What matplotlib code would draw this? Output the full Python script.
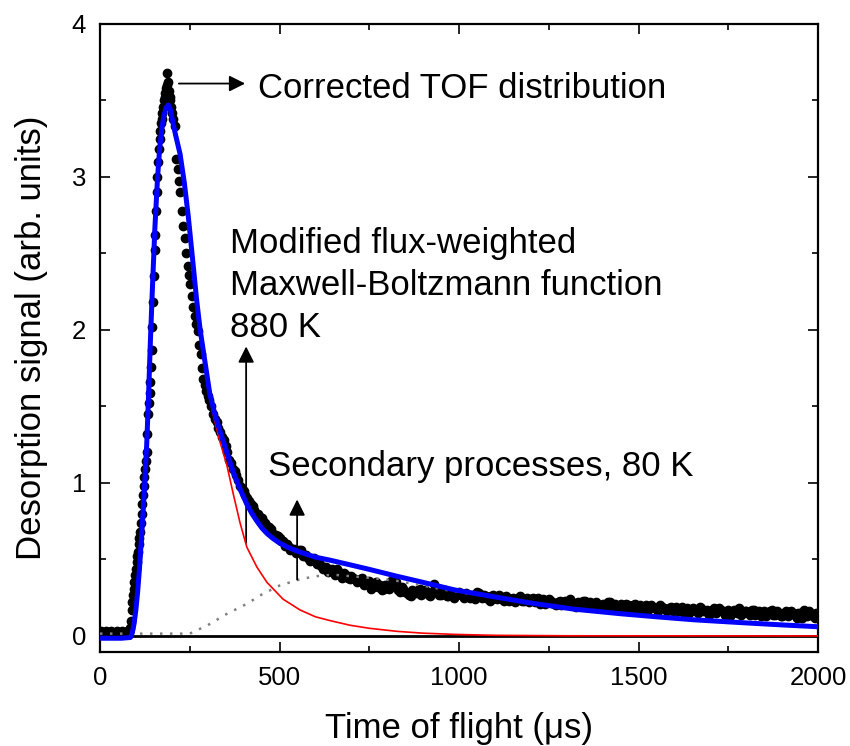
import numpy as np
import matplotlib.pyplot as plt
from matplotlib.ticker import MultipleLocator

plt.rcParams['font.family'] = ['Liberation Sans', 'DejaVu Sans']

# measured TOF points (time in us, signal in arb. units)
t_base = np.arange(0, 81, 4)
s_base = [0.02, 0.03, 0.01, 0.02, 0.03, 0.02, 0.01, 0.02, 0.03, 0.02, 0.02,
          0.01, 0.03, 0.02, 0.02, 0.03, 0.01, 0.02, 0.02, 0.03, 0.03]
t_rise = np.arange(82, 199, 2)
s_rise = [0.03, 0.05, 0.10, 0.17, 0.22, 0.27, 0.31, 0.35, 0.40, 0.44,
          0.48, 0.52, 0.55, 0.60, 0.64, 0.68, 0.74, 0.80, 0.86, 0.92,
          0.98, 1.04, 1.09, 1.14, 1.20, 1.32, 1.45, 1.52, 1.59, 1.66,
          1.76, 1.87, 2.02, 2.18, 2.35, 2.52, 2.62, 2.78, 2.90, 3.00,
          3.10, 3.18, 3.25, 3.30, 3.35, 3.38, 3.42, 3.46, 3.50, 3.52,
          3.55, 3.58, 3.60, 3.68, 3.62, 3.56, 3.52, 3.50, 3.46]
t_fall = np.arange(200, 297, 4)
s_fall = [3.42, 3.38, 3.33, 3.12, 3.05, 2.97, 2.90, 2.78, 2.68, 2.60,
          2.50, 2.42, 2.36, 2.30, 2.22, 2.15, 2.09, 2.04, 1.99, 1.90,
          1.84, 1.75, 1.68, 1.64, 1.60]
t_tail = np.arange(300, 2001, 10)
s_tail = [1.57, 1.50, 1.42, 1.36, 1.30, 1.24, 1.15, 1.09, 1.05, 0.98,
          0.95, 0.90, 0.86, 0.82, 0.80, 0.77, 0.74, 0.71, 0.67, 0.66,
          0.64, 0.62, 0.60, 0.56, 0.57, 0.55, 0.56, 0.53, 0.51, 0.50,
          0.49, 0.48, 0.44, 0.45, 0.43, 0.42, 0.44, 0.40, 0.41, 0.38,
          0.39, 0.37, 0.36, 0.38, 0.34, 0.36, 0.32, 0.35, 0.33, 0.31,
          0.33, 0.36, 0.34, 0.30, 0.32, 0.29, 0.27, 0.30, 0.28, 0.31,
          0.28, 0.29, 0.26, 0.34, 0.29, 0.27, 0.30, 0.26, 0.28, 0.27,
          0.29, 0.26, 0.28, 0.25, 0.27, 0.29, 0.26, 0.27, 0.24, 0.26,
          0.25, 0.27, 0.24, 0.26, 0.23, 0.25, 0.24, 0.26, 0.23, 0.25,
          0.24, 0.22, 0.25, 0.23, 0.21, 0.24, 0.22, 0.20, 0.23, 0.21,
          0.22, 0.24, 0.20, 0.22, 0.21, 0.23, 0.19, 0.21, 0.22, 0.20,
          0.21, 0.19, 0.22, 0.20, 0.18, 0.21, 0.19, 0.20, 0.18, 0.21,
          0.19, 0.17, 0.20, 0.18, 0.19, 0.17, 0.20, 0.18, 0.16, 0.19,
          0.18, 0.16, 0.19, 0.17, 0.15, 0.18, 0.17, 0.19, 0.16, 0.17,
          0.15, 0.18, 0.16, 0.17, 0.14, 0.17, 0.15, 0.16, 0.18, 0.15,
          0.16, 0.14, 0.17, 0.15, 0.13, 0.16, 0.15, 0.17, 0.14, 0.15,
          0.13, 0.16, 0.14, 0.15, 0.12, 0.15, 0.17, 0.13, 0.14, 0.12,
          0.15]
t_tail2 = np.arange(305, 2000, 10)
s_tail2 = [1.54, 1.45, 1.40, 1.33, 1.28, 1.20, 1.13, 1.08, 1.02, 0.97,
           0.92, 0.88, 0.85, 0.80, 0.78, 0.75, 0.72, 0.70, 0.66, 0.65,
           0.62, 0.59, 0.58, 0.57, 0.54, 0.56, 0.52, 0.53, 0.49, 0.51,
           0.47, 0.46, 0.45, 0.42, 0.44, 0.40, 0.42, 0.38, 0.40, 0.37,
           0.38, 0.35, 0.37, 0.33, 0.35, 0.31, 0.34, 0.32, 0.30, 0.33,
           0.31, 0.33, 0.35, 0.29, 0.31, 0.28, 0.26, 0.29, 0.30, 0.27,
           0.30, 0.27, 0.29, 0.31, 0.27, 0.29, 0.26, 0.28, 0.25, 0.28,
           0.27, 0.25, 0.27, 0.26, 0.24, 0.28, 0.25, 0.26, 0.23, 0.27,
           0.24, 0.26, 0.23, 0.25, 0.24, 0.22, 0.25, 0.23, 0.24, 0.22,
           0.25, 0.23, 0.21, 0.24, 0.22, 0.23, 0.21, 0.22, 0.20, 0.23,
           0.21, 0.22, 0.19, 0.21, 0.23, 0.20, 0.22, 0.19, 0.21, 0.18,
           0.20, 0.22, 0.19, 0.21, 0.19, 0.18, 0.21, 0.17, 0.20, 0.18,
           0.20, 0.18, 0.17, 0.20, 0.18, 0.16, 0.19, 0.17, 0.18, 0.16,
           0.19, 0.17, 0.15, 0.18, 0.16, 0.17, 0.15, 0.18, 0.16, 0.14,
           0.17, 0.15, 0.18, 0.16, 0.15, 0.13, 0.17, 0.15, 0.14, 0.16,
           0.15, 0.17, 0.14, 0.16, 0.15, 0.13, 0.16, 0.14, 0.16, 0.13,
           0.15, 0.13, 0.16, 0.14, 0.15, 0.12, 0.14, 0.16, 0.13, 0.15]
t_data = np.concatenate([t_base, t_rise, t_fall, t_tail, t_tail2])
s_data = np.concatenate([s_base, s_rise, s_fall, s_tail, s_tail2])

# total fit (blue)
t_fit = [0, 60, 85, 90, 95, 100, 105, 110, 117, 124, 130, 135, 140, 146, 153,
         160, 166, 172, 178, 184, 190, 196, 202, 210, 223, 235, 246, 258, 269,
         279, 288, 306, 320, 334, 352, 371, 390, 409, 423, 437, 451, 465, 480,
         495, 510, 530, 557, 600, 641, 696, 750, 827, 900, 989, 1100, 1200,
         1320, 1450, 1550, 1657, 1800, 1900, 2000]
s_fit = [-0.015, -0.015, -0.01, 0.02, 0.08, 0.17, 0.29, 0.44, 0.69, 0.97, 1.24,
         1.55, 1.90, 2.27, 2.67, 2.98, 3.18, 3.31, 3.40, 3.45, 3.47, 3.44, 3.37,
         3.28, 3.15, 2.96, 2.74, 2.46, 2.20, 2.00, 1.86, 1.58, 1.45, 1.34, 1.21,
         1.07, 0.96, 0.86, 0.80, 0.75, 0.705, 0.67, 0.64, 0.615, 0.595, 0.572,
         0.548, 0.515, 0.495, 0.465, 0.435, 0.39, 0.35, 0.30, 0.255, 0.215,
         0.175, 0.145, 0.125, 0.105, 0.085, 0.072, 0.06]

# MB component, 880 K (red)
t_mb = [0, 60, 85, 90, 95, 100, 105, 110, 117, 124, 130, 135, 140, 146, 153,
        160, 166, 172, 178, 184, 190, 196, 202, 210, 223, 235, 246, 258, 269,
        279, 288, 306, 315, 334, 353, 371, 390, 409, 437, 465, 510, 557, 600,
        641, 696, 750, 827, 900, 989, 1100, 1300, 2000]
s_mb = [-0.015, -0.015, -0.01, 0.02, 0.08, 0.17, 0.29, 0.44, 0.69, 0.97, 1.24,
        1.55, 1.90, 2.27, 2.67, 2.98, 3.18, 3.31, 3.40, 3.45, 3.47, 3.44, 3.37,
        3.28, 3.15, 2.96, 2.74, 2.46, 2.19, 1.98, 1.83, 1.55, 1.45, 1.27, 1.12,
        0.93, 0.74, 0.58, 0.45, 0.35, 0.24, 0.17, 0.125, 0.10, 0.07, 0.05,
        0.03, 0.018, 0.01, 0.004, 0.001, 0.0]

# secondary processes, 80 K (grey dotted)
t_sec = [0, 250, 300, 350, 409, 450, 501, 557, 600, 649, 700, 750, 827, 919,
         989, 1100, 1200, 1320, 1450, 1550, 1657, 1800, 1900, 2000]
s_sec = [0.015, 0.015, 0.07, 0.14, 0.21, 0.27, 0.33, 0.37, 0.39, 0.40, 0.39,
         0.38, 0.36, 0.32, 0.29, 0.25, 0.215, 0.175, 0.145, 0.125, 0.105,
         0.085, 0.072, 0.06]

fig = plt.figure(figsize=(8.5, 7.46), dpi=100)
ax = fig.add_axes([0.1176, 0.126, 0.845, 0.842])

ax.axhline(0, color='black', lw=2, zorder=1)
ax.plot(t_data, s_data, 'o', color='black', ms=6, zorder=2)
ax.plot(t_sec, s_sec, color='#808080', lw=1.8, ls=(0, (1, 3)), zorder=3)
ax.plot(t_mb, s_mb, color='red', lw=1.2, zorder=4)
ax.plot(t_fit, s_fit, color='blue', lw=3.6, zorder=5)

ax.set_xlim(0, 2000)
ax.set_ylim(-0.105, 4)
ax.xaxis.set_major_locator(MultipleLocator(500))
ax.xaxis.set_minor_locator(MultipleLocator(250))
ax.yaxis.set_major_locator(MultipleLocator(1))
ax.yaxis.set_minor_locator(MultipleLocator(0.5))
ax.tick_params(which='both', direction='in', top=True, right=True, width=1.2,
               labelsize=18.5, pad=10)
ax.tick_params(which='major', length=7.5)
ax.tick_params(which='minor', length=4)
for sp in ax.spines.values():
    sp.set_linewidth(1.6)

ax.set_xlabel('Time of flight (μs)', fontsize=25)
ax.set_ylabel('Desorption signal (arb. units)', fontsize=25)
ax.xaxis.set_label_coords(0.5, -0.095)
ax.yaxis.set_label_coords(-0.072, 0.5)

arr = dict(arrowstyle='-|>', color='black', lw=1.3, mutation_scale=24)
ax.annotate('', xy=(412, 3.61), xytext=(212, 3.61), arrowprops=arr)
ax.text(440, 3.58, 'Corrected TOF distribution', fontsize=25, va='center')
ax.annotate('', xy=(407, 1.91), xytext=(407, 0.59), arrowprops=arr)
ax.text(362, 2.29, 'Modified flux-weighted\nMaxwell-Boltzmann function\n880 K',
        fontsize=25, va='center', linespacing=1.33)
ax.annotate('', xy=(549, 0.91), xytext=(549, 0.35), arrowprops=arr)
ax.text(468, 1.11, 'Secondary processes, 80 K', fontsize=25, va='center')

fig.savefig('out.png', dpi=100)
